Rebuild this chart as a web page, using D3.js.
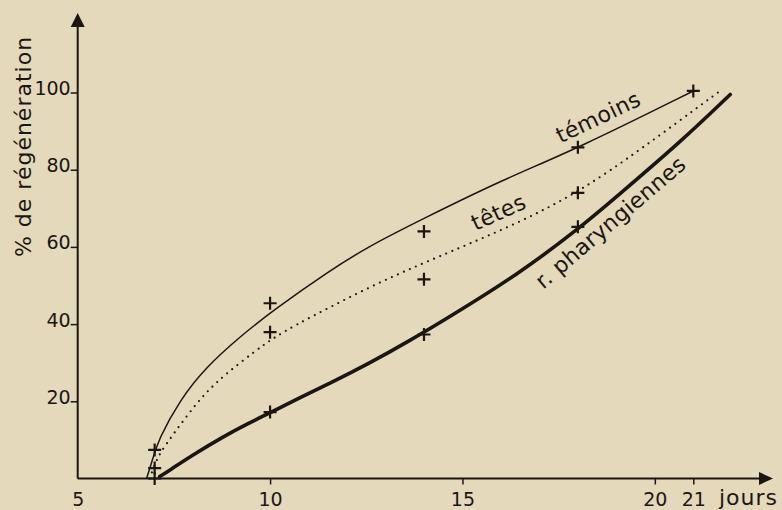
<!DOCTYPE html>
<html>
<head>
<meta charset="utf-8">
<script src="https://cdn.jsdelivr.net/npm/d3@7"></script>
<style>
  body { margin: 0; background: #e5d9bb; }
  svg { display: block; font-family: "DejaVu Sans", sans-serif; }
</style>
</head>
<body>
<div id="chart"></div>
<script>
// crosses (jours, % de régénération)
const temoinsPts = [[7, 7.4], [10, 45.4], [14, 64], [18, 85.8], [21, 100.4]];
const tetesPts = [[7, 2.7], [10, 37.9], [14, 51.6], [18, 74]];
const pharPts = [[7, 0], [10, 17.2], [14, 37.3], [18, 65.2]];

// hand-drawn curves, points
const temoinsCurve = [[6.79, 0], [6.95, 5], [7.09, 9.9], [7.65, 20.3], [8.34, 28.9], [9.2, 36.6], [10.07, 43.5],
  [11.54, 53.8], [12.57, 60.2], [14, 67.4], [16, 77.2], [18.06, 85.8], [21, 100.4], [21, 100.4]];
const tetesCurve = [[6.87, 0], [7.0, 3.5], [7.13, 6.5], [7.48, 11.4], [7.91, 17.2], [8.34, 22.4], [8.86, 27.2],
  [9.64, 33.2], [10.07, 36.3], [10.67, 39.8], [11.54, 44.3], [12.57, 49.5], [13.61, 54.2], [14.65, 58.6],
  [16.46, 66.2], [18.06, 74.4], [19.6, 85], [21.64, 100], [21.64, 100]];
const pharCurve = [[7.13, 0.5], [7.4, 2.2], [7.91, 5.6], [8.77, 10.8], [9.46, 14.4], [10.03, 17.2], [10.76, 20.9],
  [11.54, 24.6], [12.57, 29.8], [13.61, 35.6], [14.65, 41.8], [16.46, 53.0], [18.06, 65.0], [19.05, 73.4],
  [20.69, 87.4], [21.96, 99.5], [21.96, 99.5]];

const xTicks = [5, 10, 15, 20, 21];
const yTicks = [20, 40, 60, 80, 100];

// curve labels: [day, value, angle, text]
const curveLabels = [
  [17.55, 86.8, -25.5, "témoins"],
  [15.34, 64.1, -24.5, "têtes"],
  [17.1, 48.9, -40.5, "r. pharyngiennes"]
];

const W = 782, H = 510;
const ink = "#1b1613";

const svg = d3.select("#chart").append("svg")
  .attr("width", W).attr("height", H);

svg.append("rect").attr("width", W).attr("height", H).attr("fill", "#e5d9bb");

const x = d3.scaleLinear().domain([5, 21]).range([77.7, 693.3]);
const y = d3.scaleLinear().domain([0, 100]).range([478.5, 92.5]);

const x0 = x(5), y0 = y(0);

// axes lines with arrows
svg.append("line").attr("x1", x0).attr("y1", y0).attr("x2", x0).attr("y2", 24)
  .attr("stroke", ink).attr("stroke-width", 2);
svg.append("path").attr("d", `M${x0},13 L${x0 - 7},27 L${x0 + 7},27 Z`).attr("fill", ink);
svg.append("line").attr("x1", x0).attr("y1", y0).attr("x2", 762).attr("y2", y0)
  .attr("stroke", ink).attr("stroke-width", 2);
svg.append("path").attr("d", `M773,${y0} L759,${y0 - 6.5} L759,${y0 + 6.5} Z`).attr("fill", ink);

// y ticks
const yAxis = svg.append("g")
  .attr("transform", `translate(${x0},0)`)
  .call(d3.axisLeft(y).tickValues(yTicks).tickSize(7).tickPadding(0).tickFormat(d3.format("d")));
yAxis.select(".domain").remove();
yAxis.selectAll("line").attr("stroke", ink).attr("stroke-width", 1.5);
yAxis.selectAll("text")
  .attr("x", -7).attr("dy", "0.1em")
  .attr("fill", ink).style("font-size", "19px").style("font-family", "DejaVu Sans");

// x ticks
const xAxis = svg.append("g")
  .attr("transform", `translate(0,${y0})`)
  .call(d3.axisBottom(x).tickValues(xTicks).tickSize(6).tickPadding(0).tickFormat(d3.format("d")));
xAxis.select(".domain").remove();
xAxis.selectAll("line").attr("stroke", ink).attr("stroke-width", 1.5)
  .filter(d => d === 5).remove();
xAxis.selectAll("text")
  .attr("y", 27).attr("dy", 0)
  .attr("fill", ink).style("font-size", "19px").style("font-family", "DejaVu Sans");

svg.append("text")
  .attr("x", 719).attr("y", 505)
  .attr("fill", ink).style("font-size", "22px").style("letter-spacing", "1px")
  .text("jours");

svg.append("text")
  .attr("transform", `translate(31,146.5) rotate(-90)`)
  .attr("text-anchor", "middle")
  .attr("fill", ink).style("font-size", "22px").style("letter-spacing", "1px")
  .text("% de régénération");

// curves, smoothed like the drawn pen lines
const line = d3.line()
  .x(d => x(d[0])).y(d => y(d[1]))
  .curve(d3.curveBasis);

svg.append("path").datum(temoinsCurve).attr("d", line)
  .attr("fill", "none").attr("stroke", ink).attr("stroke-width", 1.5);
svg.append("path").datum(tetesCurve).attr("d", line)
  .attr("fill", "none").attr("stroke", ink).attr("stroke-width", 2.2)
  .attr("stroke-linecap", "round").attr("stroke-dasharray", "0 6.6");
svg.append("path").datum(pharCurve).attr("d", line)
  .attr("fill", "none").attr("stroke", ink).attr("stroke-width", 3.6)
  .attr("stroke-linecap", "round");

// crosses
const allPts = temoinsPts.concat(tetesPts, pharPts);
svg.selectAll("path.cross")
  .data(allPts)
  .enter().append("path")
  .attr("class", "cross")
  .attr("d", d => {
    const cx = x(d[0]), cy = y(d[1]);
    return `M${cx - 6.5},${cy} H${cx + 6.5} M${cx},${cy - 6.5} V${cy + 6.5}`;
  })
  .attr("stroke", ink).attr("stroke-width", 2.2).attr("fill", "none");

// curve labels
svg.selectAll("text.lab")
  .data(curveLabels)
  .enter().append("text")
  .attr("class", "lab")
  .attr("transform", d => `translate(${x(d[0])},${y(d[1])}) rotate(${d[2]})`)
  .attr("fill", ink).style("font-size", "22px").style("letter-spacing", "0.3px")
  .text(d => d[3]);
</script>
</body>
</html>
